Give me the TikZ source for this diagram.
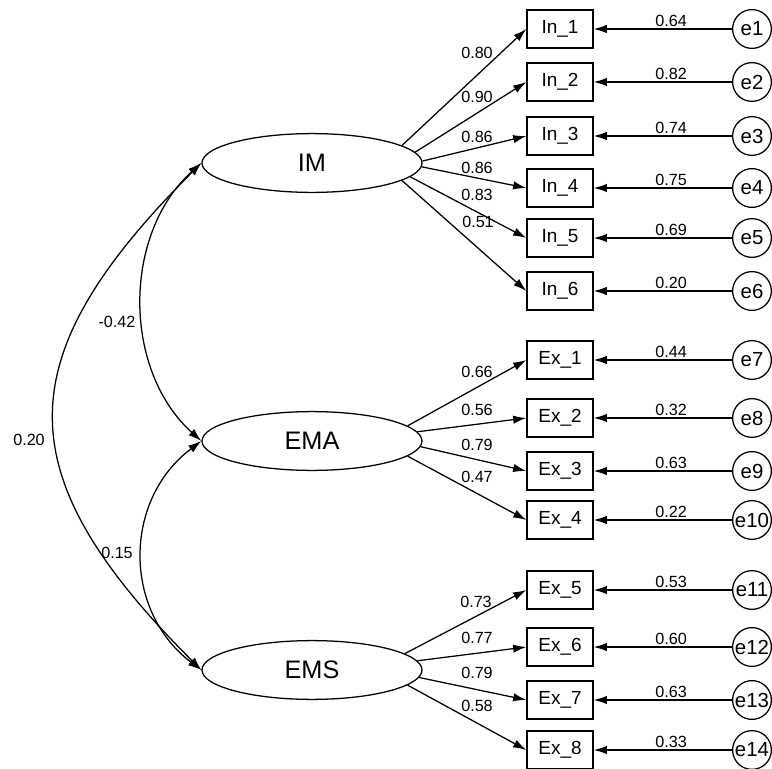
\documentclass[tikz,border=0pt]{standalone}
\usepackage{fontspec}
\setmainfont{Liberation Sans}
\usetikzlibrary{arrows.meta,shapes.geometric}

\begin{document}
\begin{tikzpicture}[x=0.025cm, y=0.025cm, line width=0.9pt,
    >={Latex[length=3.3mm,width=2.1mm]},
    latent/.style={ellipse, draw, minimum width=5.5cm, minimum height=1.47cm, inner sep=0pt,
        font=\fontsize{18}{20}\selectfont},
    obs/.style={rectangle, draw, minimum width=1.65cm, minimum height=0.95cm, inner sep=0pt,
        font=\fontsize{13.5}{15}\selectfont},
    err/.style={circle, draw, minimum size=0.97cm, inner sep=0pt,
        font=\fontsize{14.5}{16}\selectfont},
    lbl/.style={inner sep=1pt, font=\fontsize{11.5}{13}\selectfont} ]
    \useasboundingbox (0,0) rectangle (772,-769);

    % --- latent factors ---
    \node[latent] (IM)  at (312,-163) {IM};
    \node[latent] (EMA) at (312,-441) {EMA};
    \node[latent] (EMS) at (312,-670) {EMS};

    % --- indicators ---
    \node[obs] (In1) at (560,-29)  {In\_1};
    \node[obs] (In2) at (560,-82)  {In\_2};
    \node[obs] (In3) at (560,-136) {In\_3};
    \node[obs] (In4) at (560,-188) {In\_4};
    \node[obs] (In5) at (560,-238) {In\_5};
    \node[obs] (In6) at (560,-291) {In\_6};
    \node[obs] (Ex1) at (560,-360) {Ex\_1};
    \node[obs] (Ex2) at (560,-418) {Ex\_2};
    \node[obs] (Ex3) at (560,-471) {Ex\_3};
    \node[obs] (Ex4) at (560,-520) {Ex\_4};
    \node[obs] (Ex5) at (560,-590) {Ex\_5};
    \node[obs] (Ex6) at (560,-647) {Ex\_6};
    \node[obs] (Ex7) at (560,-700) {Ex\_7};
    \node[obs] (Ex8) at (560,-750) {Ex\_8};

    % --- error terms ---
    \node[err] (e1)  at (752,-29)  {e1};
    \node[err] (e2)  at (752,-82)  {e2};
    \node[err] (e3)  at (752,-136) {e3};
    \node[err] (e4)  at (752,-188) {e4};
    \node[err] (e5)  at (752,-238) {e5};
    \node[err] (e6)  at (752,-291) {e6};
    \node[err] (e7)  at (752,-360) {e7};
    \node[err] (e8)  at (752,-418) {e8};
    \node[err] (e9)  at (752,-471) {e9};
    \node[err] (e10) at (752,-520) {e10};
    \node[err] (e11) at (752,-590) {e11};
    \node[err] (e12) at (752,-647) {e12};
    \node[err] (e13) at (752,-700) {e13};
    \node[err] (e14) at (752,-750) {e14};

    % --- loadings ---
    \draw[->] (IM.11)   -- (In1.west);
    \draw[->] (IM.6)    -- (In2.west);
    \draw[->] (IM.1.5)  -- (In3.west);
    \draw[->] (IM.-2.5) -- (In4.west);
    \draw[->] (IM.-8)   -- (In5.west);
    \draw[->] (IM.-11)  -- (In6.west);
    \draw[->] (EMA.9.5) -- (Ex1.west);
    \draw[->] (EMA.5)   -- (Ex2.west);
    \draw[->] (EMA.-3.5) -- (Ex3.west);
    \draw[->] (EMA.-9)  -- (Ex4.west);
    \draw[->] (EMS.10)  -- (Ex5.west);
    \draw[->] (EMS.5)   -- (Ex6.west);
    \draw[->] (EMS.-4)  -- (Ex7.west);
    \draw[->] (EMS.-9)  -- (Ex8.west);

    \node[lbl] (w1)  at (477,-53)  {0.80};
    \node[lbl] (w2)  at (477,-97)  {0.90};
    \node[lbl] (w3)  at (477,-137) {0.86};
    \node[lbl] (w4)  at (477,-168) {0.86};
    \node[lbl] (w5)  at (477,-195) {0.83};
    \node[lbl] (w6)  at (478,-222) {0.51};
    \node[lbl] (w7)  at (477,-372) {0.66};
    \node[lbl] (w8)  at (477,-410) {0.56};
    \node[lbl] (w9)  at (477,-445) {0.79};
    \node[lbl] (w10) at (477,-477) {0.47};
    \node[lbl] (w11) at (476,-602) {0.73};
    \node[lbl] (w12) at (477,-638) {0.77};
    \node[lbl] (w13) at (477,-673) {0.79};
    \node[lbl] (w14) at (477,-706) {0.58};

    % --- residuals ---
    \draw[->] (e1)  -- node[lbl, above, pos=0.44] (v1)  {0.64} (In1);
    \draw[->] (e2)  -- node[lbl, above, pos=0.44] (v2)  {0.82} (In2);
    \draw[->] (e3)  -- node[lbl, above, pos=0.44] (v3)  {0.74} (In3);
    \draw[->] (e4)  -- node[lbl, above, pos=0.44] (v4)  {0.75} (In4);
    \draw[->] (e5)  -- node[lbl, above, pos=0.44] (v5)  {0.69} (In5);
    \draw[->] (e6)  -- node[lbl, above, pos=0.44] (v6)  {0.20} (In6);
    \draw[->] (e7)  -- node[lbl, above, pos=0.44] (v7)  {0.44} (Ex1);
    \draw[->] (e8)  -- node[lbl, above, pos=0.44] (v8)  {0.32} (Ex2);
    \draw[->] (e9)  -- node[lbl, above, pos=0.44] (v9)  {0.63} (Ex3);
    \draw[->] (e10) -- node[lbl, above, pos=0.44] (v10) {0.22} (Ex4);
    \draw[->] (e11) -- node[lbl, above, pos=0.44] (v11) {0.53} (Ex5);
    \draw[->] (e12) -- node[lbl, above, pos=0.44] (v12) {0.60} (Ex6);
    \draw[->] (e13) -- node[lbl, above, pos=0.44] (v13) {0.63} (Ex7);
    \draw[->] (e14) -- node[lbl, above, pos=0.44] (v14) {0.33} (Ex8);

    % --- factor covariances ---
    \draw[<->] (IM.west)  to[out=222, in=138, looseness=0.98] (EMA.west);
    \draw[<->] (EMA.west) to[out=217, in=143, looseness=1.1]  (EMS.west);
    \draw[<->] (IM.west)  to[out=225, in=135, looseness=1.4]  (EMS.west);

    \node[lbl] (c1) at (117,-322) {-0.42};
    \node[lbl] (c2) at (117,-553) {0.15};
    \node[lbl] (c3) at (29,-440)  {0.20};
\end{tikzpicture}
\end{document}
